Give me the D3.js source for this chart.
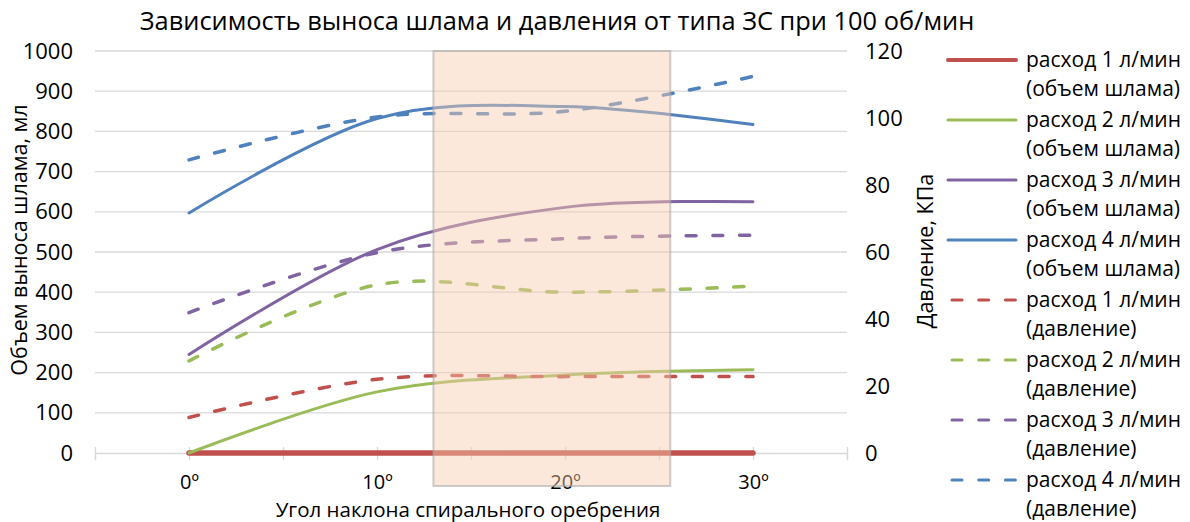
<!DOCTYPE html>
<html>
<head>
<meta charset="utf-8">
<script src="https://cdn.jsdelivr.net/npm/d3@7"></script>
<style>
  html, body { margin: 0; padding: 0; background: #fff; }
  svg { display: block; font-family: "Open Sans", "Noto Sans", sans-serif; }
</style>
</head>
<body>
<svg id="chart" width="1190" height="522"></svg>
<script>
// ---- data ----
const angles = [0, 10, 20, 30];
const slurry1 = [0, 0, 0, 0];
const slurry2 = [0, 152, 194, 207];
const slurry3 = [245, 506, 611, 625];
const slurry4 = [597, 832, 862, 817];
const pressure1 = [10.6, 22, 22.8, 22.8];
const pressure2 = [27.5, 50.2, 48, 49.8];
const pressure3 = [41.9, 59.8, 64, 65];
const pressure4 = [87.5, 100.3, 102, 112.4];
const leftTicks = [0, 100, 200, 300, 400, 500, 600, 700, 800, 900, 1000];
const rightTicks = [0, 20, 40, 60, 80, 100, 120];
const xTicks = [-5, 0, 5, 10, 15, 20, 25, 30, 35];
const xLabelTicks = [0, 10, 20, 30];
const shadeRange = [13, 25.6];
const seriesNames = [
  ["расход 1 л/мин", "(объем шлама)"],
  ["расход 2 л/мин", "(объем шлама)"],
  ["расход 3 л/мин", "(объем шлама)"],
  ["расход 4 л/мин", "(объем шлама)"],
  ["расход 1 л/мин", "(давление)"],
  ["расход 2 л/мин", "(давление)"],
  ["расход 3 л/мин", "(давление)"],
  ["расход 4 л/мин", "(давление)"]
];
const title = "Зависимость выноса шлама и давления от типа ЗС при 100 об/мин";
const xTitle = "Угол наклона спирального оребрения";
const yLeftTitle = "Объем выноса шлама, мл";
const yRightTitle = "Давление, КПа";

const colors = ["#C0504D", "#9BBB59", "#8064A2", "#4F81BD"];

const svg = d3.select("#chart");
const x = d3.scaleLinear().domain([-5, 35]).range([95, 847]);
const yL = d3.scaleLinear().domain([0, 1000]).range([453, 51]);
const yR = d3.scaleLinear().domain([0, 120]).range([453, 51]);

// gridlines
svg.append("g").selectAll("line").data(leftTicks.filter(d => d > 0)).join("line")
  .attr("x1", x(-5)).attr("x2", x(35))
  .attr("y1", d => yL(d)).attr("y2", d => yL(d))
  .attr("stroke", "#D9D9D9").attr("stroke-width", 1.3);

// x axis
const xAxis = svg.append("g").attr("transform", `translate(0,${yL(0)})`)
  .call(d3.axisBottom(x).tickValues(xTicks).tickSize(7).tickPadding(15)
    .tickFormat(d => xLabelTicks.includes(d) ? d + "º" : ""));
xAxis.select(".domain").attr("stroke", "#D9D9D9").attr("stroke-width", 1.3);
xAxis.selectAll(".tick line").attr("stroke", "#D9D9D9").attr("stroke-width", 1.3).attr("y1", -6);
xAxis.selectAll(".tick text").attr("font-size", 20).attr("fill", "#000")
  .attr("font-family", "Open Sans");

// left axis labels
const la = svg.append("g").attr("transform", `translate(81,0)`)
  .call(d3.axisLeft(yL).tickValues(leftTicks).tickSize(0).tickPadding(8).tickFormat(d3.format("d")));
la.select(".domain").remove();
la.selectAll("text").attr("font-size", 22).attr("fill", "#000").attr("font-family", "Open Sans");

// right axis labels
const ra = svg.append("g").attr("transform", `translate(857,0)`)
  .call(d3.axisRight(yR).tickValues(rightTicks).tickSize(0).tickPadding(8).tickFormat(d3.format("d")));
ra.select(".domain").remove();
ra.selectAll("text").attr("font-size", 22).attr("fill", "#000").attr("font-family", "Open Sans");

const curve = d3.curveCardinal.tension(0);
const lineL = d3.line().x((d, i) => x(angles[i])).y(d => yL(d)).curve(curve);
const lineR = d3.line().x((d, i) => x(angles[i])).y(d => yR(d)).curve(curve);

const slurry = [slurry1, slurry2, slurry3, slurry4];
const pressure = [pressure1, pressure2, pressure3, pressure4];

const plot = svg.append("g");
slurry.forEach((s, i) => {
  plot.append("path").attr("d", lineL(s)).attr("fill", "none")
    .attr("stroke", colors[i]).attr("stroke-width", i === 0 ? 5.5 : 3)
    .attr("stroke-linecap", "round").attr("stroke-linejoin", "round");
});
pressure.forEach((s, i) => {
  plot.append("path").attr("d", lineR(s)).attr("fill", "none")
    .attr("stroke", colors[i]).attr("stroke-width", 3.5)
    .attr("stroke-dasharray", "10,16.7")
    .attr("stroke-linecap", "round");
});

// shaded region (overlay)
svg.append("rect")
  .attr("x", x(shadeRange[0])).attr("y", yL(1000))
  .attr("width", x(shadeRange[1]) - x(shadeRange[0]))
  .attr("height", yL(0) - yL(1000) + 33)
  .attr("fill", "#F8CBAD").attr("fill-opacity", 0.45)
  .attr("stroke", "#A6A6A6").attr("stroke-opacity", 0.55).attr("stroke-width", 2);

// titles
svg.append("text").attr("x", 557).attr("y", 30).attr("text-anchor", "middle")
  .attr("font-size", 25.4).attr("fill", "#000").text(title);
svg.append("text").attr("x", 468).attr("y", 517).attr("text-anchor", "middle")
  .attr("font-size", 20.5).attr("fill", "#000").text(xTitle);
svg.append("text").attr("transform", "translate(27,240) rotate(-90)").attr("text-anchor", "middle")
  .attr("font-size", 21.5).attr("fill", "#000").text(yLeftTitle);
svg.append("text").attr("transform", "translate(933,251) rotate(-90)").attr("text-anchor", "middle")
  .attr("font-size", 21.5).attr("fill", "#000").text(yRightTitle);

// legend
const leg = svg.append("g");
seriesNames.forEach((nm, i) => {
  const cy = 60 + 60 * i;
  const c = colors[i % 4];
  const dashed = i >= 4;
  leg.append("line").attr("x1", dashed ? 952 : 948).attr("x2", 1016)
    .attr("y1", cy).attr("y2", cy)
    .attr("stroke", c).attr("stroke-width", i === 0 ? 4 : 3)
    .attr("stroke-linecap", "round")
    .attr("stroke-dasharray", dashed ? "10,16.7" : null);
  leg.append("text").attr("x", 1026).attr("y", cy + 7).attr("font-size", 21).attr("fill", "#000").text(nm[0]);
  leg.append("text").attr("x", 1026).attr("y", cy + 36).attr("font-size", 21).attr("fill", "#000").text(nm[1]);
});
</script>
</body>
</html>
